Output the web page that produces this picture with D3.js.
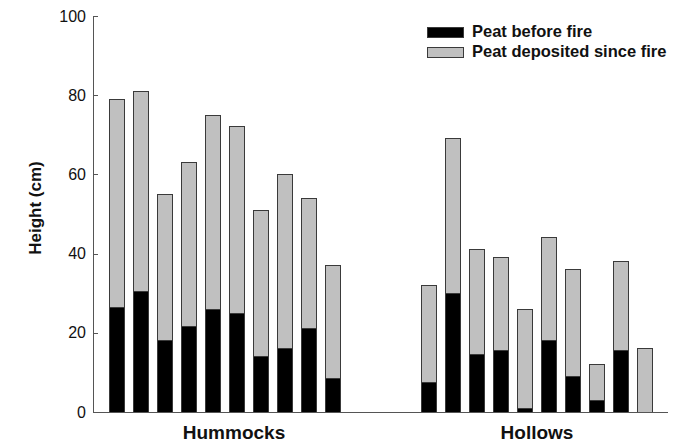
<!DOCTYPE html>
<html>
<head>
<meta charset="UTF-8">
<title>Peat height</title>
<script src="https://cdn.jsdelivr.net/npm/d3@7"></script>
<style>
  body{margin:0;background:#fff;}
  text{font-family:"Liberation Sans",Arial,sans-serif;}
</style>
</head>
<body>
<script>
// values (cm)
var groups = ["Hummocks", "Hollows"];
var hummockBefore = [26.5, 30.5, 18, 21.5, 26, 25, 14, 16, 21, 8.5];
var hummockSince  = [52.5, 50.5, 37, 41.5, 49, 47, 37, 44, 33, 28.5];
var hollowBefore  = [7.5, 30, 14.5, 15.5, 1, 18, 9, 3, 15.5, 0];
var hollowSince   = [24.5, 39, 26.5, 23.5, 25, 26, 27, 9, 22.5, 16];
var yTicks = [0, 20, 40, 60, 80, 100];
var seriesNames = ["Peat before fire", "Peat deposited since fire"];
var colors = ["#000000", "#c0c0c0"];

var w = 681, h = 444;

// build rows: hummocks, 3 empty slots, hollows
var rows = [];
hummockBefore.forEach(function(d, i){
  rows.push({id: "h" + i, group: groups[0], before: d, since: hummockSince[i]});
});
var gapIds = ["gap0", "gap1", "gap2"];
hollowBefore.forEach(function(d, i){
  rows.push({id: "w" + i, group: groups[1], before: d, since: hollowSince[i]});
});
var slotIds = rows.slice(0, 10).map(function(d){ return d.id; })
  .concat(gapIds)
  .concat(rows.slice(10).map(function(d){ return d.id; }));

var x = d3.scaleBand()
  .domain(slotIds)
  .range([109, 652])
  .paddingInner(0.375)
  .paddingOuter(0);

var y = d3.scaleLinear()
  .domain([0, 100])
  .range([412, 16]);

var svg = d3.select("body").append("svg")
  .attr("width", w)
  .attr("height", h);

// stacked bars
var stack = d3.stack().keys(["before", "since"]);
var layers = stack(rows);

svg.append("g")
  .selectAll("g")
  .data(layers)
  .enter()
  .append("g")
  .attr("fill", function(d, i){ return colors[i]; })
  .selectAll("rect")
  .data(function(d){ return d.filter(function(s){ return s[1] - s[0] > 0; }); })
  .enter()
  .append("rect")
  .attr("x", function(d){ return x(d.data.id); })
  .attr("y", function(d){ return y(d[1]); })
  .attr("width", x.bandwidth())
  .attr("height", function(d){ return y(d[0]) - y(d[1]); })
  .attr("stroke", "#3a3a3a")
  .attr("stroke-width", 1)
  .attr("shape-rendering", "crispEdges");

// y axis, ticks pointing inward
var yAxis = d3.axisLeft(y)
  .tickValues(yTicks)
  .tickSize(-5)
  .tickSizeOuter(0)
  .tickPadding(7);

var yg = svg.append("g")
  .attr("transform", "translate(93,0)")
  .call(yAxis);
yg.select(".domain").attr("stroke", "#555").attr("shape-rendering", "crispEdges");
yg.selectAll(".tick line").attr("stroke", "#555").attr("shape-rendering", "crispEdges");
yg.selectAll(".tick text")
  .attr("font-size", "16px")
  .attr("fill", "#111")
  .style("font-family", "'Liberation Sans',Arial,sans-serif");

// baseline
svg.append("line")
  .attr("x1", 93).attr("x2", 668)
  .attr("y1", y(0)).attr("y2", y(0))
  .attr("stroke", "#555")
  .attr("shape-rendering", "crispEdges");

// group labels
var groupCenters = [234, 537];
svg.append("g")
  .selectAll("text")
  .data(groups)
  .enter()
  .append("text")
  .attr("x", function(d, i){ return groupCenters[i]; })
  .attr("y", 439)
  .attr("text-anchor", "middle")
  .attr("font-size", "19px")
  .attr("font-weight", "bold")
  .attr("fill", "#111")
  .text(function(d){ return d; });

// y label
svg.append("text")
  .attr("transform", "translate(41,208) rotate(-90)")
  .attr("text-anchor", "middle")
  .attr("font-size", "17px")
  .attr("font-weight", "bold")
  .attr("fill", "#111")
  .text("Height (cm)");

// legend
var legend = svg.append("g")
  .selectAll("g")
  .data(seriesNames)
  .enter()
  .append("g")
  .attr("transform", function(d, i){ return "translate(427," + (27 + i * 20) + ")"; });

legend.append("rect")
  .attr("width", 36)
  .attr("height", 10.5)
  .attr("fill", function(d, i){ return colors[i]; })
  .attr("stroke", "#3a3a3a")
  .attr("shape-rendering", "crispEdges");

legend.append("text")
  .attr("x", 45)
  .attr("y", 10)
  .attr("font-size", "16.5px")
  .attr("font-weight", "bold")
  .attr("fill", "#111")
  .text(function(d){ return d; });
</script>
</body>
</html>
